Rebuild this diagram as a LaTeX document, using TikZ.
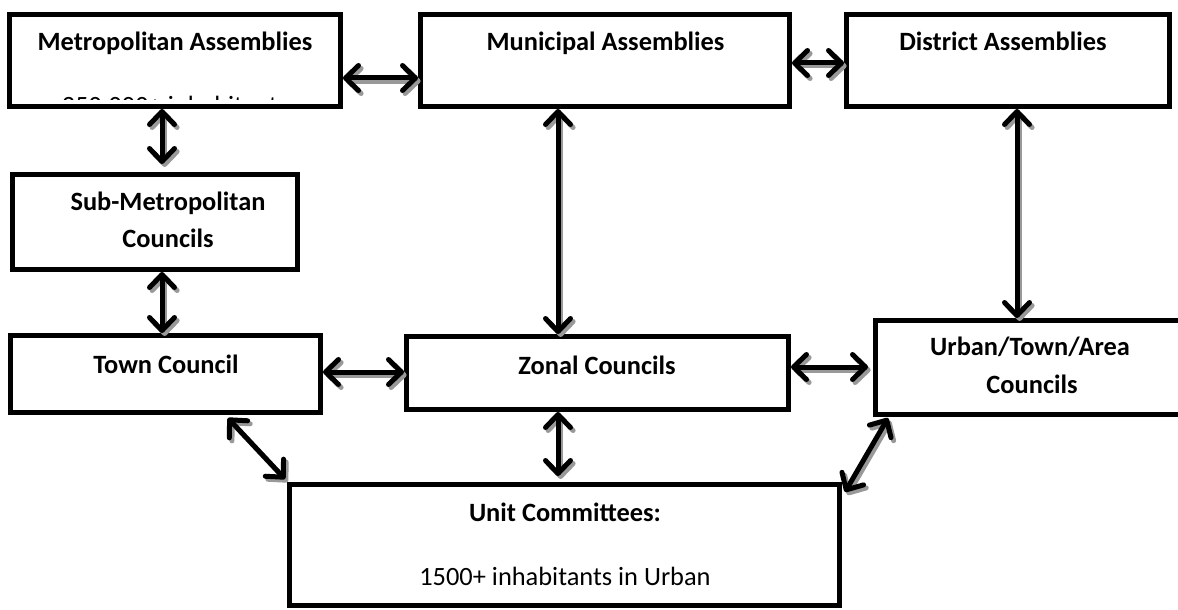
\documentclass[tikz,border=0pt]{standalone}
\usepackage{fontspec}
\setmainfont{Carlito}
\usetikzlibrary{arrows.meta,calc}
% double-headed connector with a soft grey drop shadow
\newcommand\biconn[2]{%
  \draw[biarrow,draw=black!40,transform canvas={shift={(2.6pt,-3pt)}}] #1 -- #2;
  \draw[biarrow] #1 -- #2;}
\begin{document}
\begin{tikzpicture}[x=1pt,y=-1pt,
  box/.style={draw=black,line width=5pt,fill=white,inner sep=0pt},
  title/.style={font=\bfseries\fontsize{26.4}{32}\selectfont,anchor=base,inner sep=0pt},
  plain/.style={font=\fontsize{26.4}{32}\selectfont,anchor=base,inner sep=0pt},
  biarrow/.style={line width=5pt,line cap=round,
    {Straight Barb[round,length=13pt,width=25pt]}-{Straight Barb[round,length=13pt,width=25pt]}}
]
\fill[white] (0,0) rectangle (1178,610);
\useasboundingbox (0,0) rectangle (1178,610);

% boxes
\node[box,minimum width=331pt,minimum height=92pt] (metro) at (175,60.5) {};
\node[box,minimum width=369pt,minimum height=92pt] (muni) at (605,60.5) {};
\node[box,minimum width=323pt,minimum height=92pt] (dist) at (1008,60.5) {};
\node[box,minimum width=285pt,minimum height=95pt] (sub) at (155,222) {};
\node[box,minimum width=310pt,minimum height=77pt] (town) at (165.5,374) {};
\node[box,minimum width=382pt,minimum height=73pt] (zonal) at (597.5,373) {};
\node[box,minimum width=309pt,minimum height=94pt] (urban) at (1030,367.5) {};
\node[box,minimum width=550pt,minimum height=121pt] (unit) at (564.5,545) {};

% labels
\node[title] (metroT) at (175,51) {Metropolitan Assemblies};
\begin{scope}
  \clip ([shift={(5pt,-5pt)}]metro.north west) rectangle (metro.east |- 0,99);
  \node[plain] (metroP) at (175,114) {250,000+ inhabitants};
\end{scope}
\node[title] (muniT) at (605.5,51) {Municipal Assemblies};
\node[title] (distT) at (1003,51) {District Assemblies};
\node[title] (subT1) at (168,210) {Sub-Metropolitan};
\node[title] (subT2) at (168,247) {Councils};
\node[title] (townT) at (166,373) {Town Council};
\node[title] (zonalT) at (597,374) {Zonal Councils};
\node[title] (urbanT1) at (1030,355) {Urban/Town/Area};
\node[title] (urbanT2) at (1032,393) {Councils};
\node[title] (unitT) at (565,521) {Unit Committees:};
\node[plain] (unitP) at (565,585) {1500+ inhabitants in Urban};

% connectors
\biconn{(metro.east |- 0,78)}{(muni.west |- 0,78)}
\biconn{(muni.east |- 0,63)}{(dist.west |- 0,63)}
\biconn{(metro.south -| 162,0)}{([yshift=8pt]sub.north -| 162,0)}
\biconn{(sub.south -| 162,0)}{(town.north -| 162,0)}
\biconn{(muni.south -| 558,0)}{(zonal.north -| 558,0)}
\biconn{(zonal.south -| 558,0)}{([yshift=6pt]unit.north -| 558,0)}
\biconn{(dist.south -| 1017,0)}{(urban.north -| 1017,0)}
\biconn{(town.east |- 0,372)}{(zonal.west |- 0,372)}
\biconn{(zonal.east |- 0,367)}{([xshift=-5pt]urban.west |- 0,367)}
\biconn{([yshift=-3pt]$(town.south west)!0.698!(town.south east)$)}{([shift={(-2pt,3pt)}]unit.north west)}
\biconn{([shift={(15pt,-1pt)}]urban.south west)}{([shift={(3pt,-10pt)}]unit.north east)}
\end{tikzpicture}
\end{document}
